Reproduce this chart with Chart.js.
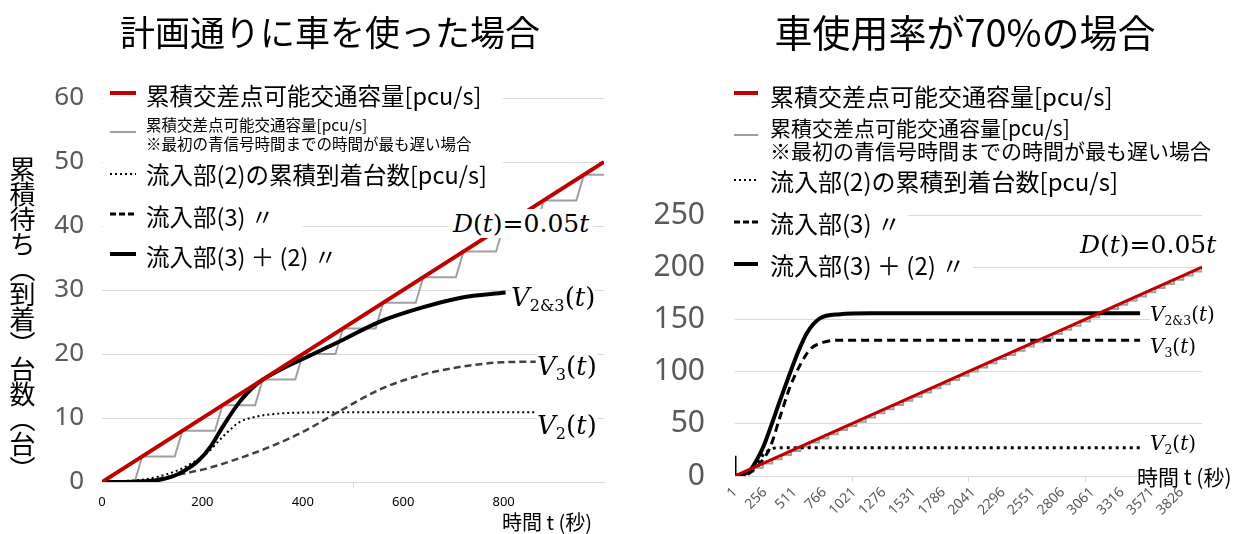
<!DOCTYPE html>
<html>
<head>
<meta charset="utf-8">
<script src="https://cdn.jsdelivr.net/npm/chart.js@4.4.1/dist/chart.umd.min.js"></script>
<style>
  body { margin: 0; background: #fff; width: 1237px; height: 534px; position: relative; overflow: hidden;
         font-family: "Noto Sans CJK JP", sans-serif; }
  canvas { position: absolute; top: 0; }
  .t { position: absolute; white-space: nowrap; color: #000; line-height: 1; }
  .title { transform: translateX(-50%); }
  .row { position: absolute; background: #fff; white-space: nowrap; }
  .row svg { position: absolute; top: 0; }
  .row span { position: absolute; line-height: 1; white-space: nowrap; }
  .math { font-family: "DejaVu Serif", serif; background: #fff; }
  .math sub { font-size: 0.62em; vertical-align: -0.3em; }
  .ytitle { writing-mode: vertical-rl; font-size: 26px; letter-spacing: -1px; }
</style>
</head>
<body>
<canvas id="cL" width="620" height="534" style="left:0"></canvas>
<canvas id="cR" width="617" height="534" style="left:620px"></canvas>

<div class="t title" style="left:330px;top:13px;font-size:35px">計画通りに車を使った場合</div>
<div class="t title" style="left:965px;top:12px;font-size:38px">車使用率が70%の場合</div>
<div class="t ytitle" style="left:9px;top:156px">累積待ち（到着）台数（台）</div>

<!-- legenda esquerda -->
<div class="row" style="left:103px;top:82px;width:400px;height:28px">
  <svg width="30" height="28" style="left:6px"><line x1="1" y1="11" x2="27" y2="11" stroke="#c00000" stroke-width="4"/></svg>
  <span style="left:43px;top:2px;font-size:23.5px">累積交差点可能交通容量[pcu/s]</span>
</div>
<div class="row" style="left:103px;top:112px;width:290px;height:40px">
  <svg width="30" height="40" style="left:6px"><line x1="1" y1="20" x2="27" y2="20" stroke="#a0a0a0" stroke-width="2"/></svg>
  <span style="left:43px;top:3px;font-size:15.5px;line-height:19px">累積交差点可能交通容量[pcu/s]<br>※最初の青信号時間までの時間が最も遅い場合</span>
</div>
<div class="row" style="left:103px;top:161px;width:400px;height:28px">
  <svg width="30" height="28" style="left:6px"><line x1="1" y1="13" x2="27" y2="13" stroke="#000" stroke-width="2" stroke-dasharray="2 3"/></svg>
  <span style="left:43px;top:2px;font-size:23.5px">流入部(2)の累積到着台数[pcu/s]</span>
</div>
<div class="row" style="left:103px;top:203px;width:200px;height:28px">
  <svg width="30" height="28" style="left:6px"><line x1="1" y1="11" x2="27" y2="11" stroke="#000" stroke-width="3" stroke-dasharray="6 3"/></svg>
  <span style="left:43px;top:2px;font-size:23.5px">流入部(3) 〃</span>
</div>
<div class="row" style="left:103px;top:243px;width:250px;height:28px">
  <svg width="30" height="28" style="left:6px"><line x1="1" y1="11" x2="27" y2="11" stroke="#000" stroke-width="4"/></svg>
  <span style="left:43px;top:2px;font-size:23.5px">流入部(3) ＋ (2) 〃</span>
</div>

<!-- legenda direita -->
<div class="row" style="left:733px;top:82px;width:400px;height:28px">
  <svg width="30" height="28" style="left:0"><line x1="1" y1="11" x2="25" y2="11" stroke="#c00000" stroke-width="4"/></svg>
  <span style="left:37px;top:2px;font-size:24px">累積交差点可能交通容量[pcu/s]</span>
</div>
<div class="row" style="left:733px;top:113px;width:490px;height:46px">
  <svg width="30" height="46" style="left:0"><line x1="1" y1="22" x2="25" y2="22" stroke="#a0a0a0" stroke-width="2"/></svg>
  <span style="left:37px;top:3px;font-size:21px;line-height:23px">累積交差点可能交通容量[pcu/s]<br>※最初の青信号時間までの時間が最も遅い場合</span>
</div>
<div class="row" style="left:733px;top:166px;width:400px;height:30px">
  <svg width="30" height="30" style="left:0"><line x1="1" y1="14" x2="25" y2="14" stroke="#000" stroke-width="2" stroke-dasharray="2 3"/></svg>
  <span style="left:37px;top:3px;font-size:24px">流入部(2)の累積到着台数[pcu/s]</span>
</div>
<div class="row" style="left:733px;top:208px;width:175px;height:30px">
  <svg width="30" height="30" style="left:0"><line x1="1" y1="14" x2="25" y2="14" stroke="#000" stroke-width="3" stroke-dasharray="6 3"/></svg>
  <span style="left:37px;top:3px;font-size:24px">流入部(3) 〃</span>
</div>
<div class="row" style="left:733px;top:250px;width:240px;height:30px">
  <svg width="30" height="30" style="left:0"><line x1="1" y1="14" x2="25" y2="14" stroke="#000" stroke-width="4"/></svg>
  <span style="left:37px;top:3px;font-size:24px">流入部(3) ＋ (2) 〃</span>
</div>

<!-- rótulos das curvas -->
<div class="t math" style="left:449px;top:209px;font-size:25px;padding:2px 4px"><i>D</i>(<i>t</i>)=0.05<i>t</i></div>
<div class="t math" style="left:511px;top:284px;font-size:26px"><i>V</i><sub>2&amp;3</sub>(<i>t</i>)</div>
<div class="t math" style="left:537px;top:353px;font-size:26px"><i>V</i><sub>3</sub>(<i>t</i>)</div>
<div class="t math" style="left:537px;top:412px;font-size:26px"><i>V</i><sub>2</sub>(<i>t</i>)</div>
<div class="t" style="left:502px;top:512px;font-size:20px">時間 t (秒)</div>

<div class="t math" style="left:1080px;top:232px;font-size:25px"><i>D</i>(<i>t</i>)=0.05<i>t</i></div>
<div class="t math" style="left:1150px;top:304px;font-size:20px"><i>V</i><sub>2&amp;3</sub>(<i>t</i>)</div>
<div class="t math" style="left:1150px;top:336px;font-size:20px"><i>V</i><sub>3</sub>(<i>t</i>)</div>
<div class="t math" style="left:1150px;top:433px;font-size:20px"><i>V</i><sub>2</sub>(<i>t</i>)</div>
<div class="t" style="left:1137px;top:466px;font-size:21px;background:#fff">時間 t (秒)</div>

<script>
// Dados do gráfico da esquerda (計画通りに車を使った場合)
const xTicksL = [0, 200, 400, 600, 800];
const xMarksL = [500];
const demandT = [0, 1000];
const demandN = [0, 50];
const capT = [0, 65, 80, 145, 160, 225, 240, 305, 320, 385, 400, 465, 480, 545, 560, 625, 640, 705, 720, 785, 800, 865, 880, 945, 960, 1000];
const capN = [0, 0, 4, 4, 8, 8, 12, 12, 16, 16, 20, 20, 24, 24, 28, 28, 32, 32, 36, 36, 40, 40, 44, 44, 48, 48];
const v2T = [0, 72, 110, 153, 180, 209, 241, 273, 313, 354, 402, 500, 600, 700, 864];
const v2N = [0, 0.3, 0.8, 1.9, 3.0, 4.5, 7.1, 9.3, 10.3, 10.7, 10.85, 10.9, 10.9, 10.9, 10.9];
const v3T = [0, 60, 112, 161, 209, 273, 338, 402, 474, 555, 635, 715, 796, 864];
const v3N = [0, 0.05, 0.5, 1.3, 2.1, 3.7, 5.6, 7.9, 11.1, 14.5, 16.7, 18.0, 18.7, 18.8];
const v23T = [0, 60, 112, 153, 193, 217, 241, 273, 305, 354, 402, 474, 555, 635, 715, 804];
const v23N = [0, 0.05, 0.3, 1.3, 3.4, 5.6, 8.7, 12.4, 15.1, 17.5, 19.3, 22.0, 25.1, 27.2, 28.8, 29.6];

// Dados do gráfico da direita (車使用率が70%の場合)
const xTicksR = [1, 256, 511, 766, 1021, 1276, 1531, 1786, 2041, 2296, 2551, 2806, 3061, 3316, 3571, 3826];
const xMarksR = [1000, 2000, 3000];
const rDemandT = [1, 4000];
const rDemandN = [0.05, 200];
const rCapT = [0, 80, 160, 240, 320, 400, 480, 560, 640, 720, 800, 880, 960, 1040, 1120, 1200, 1280, 1360, 1440, 1520, 1600, 1680, 1760, 1840, 1920, 2000, 2080, 2160, 2240, 2320, 2400, 2480, 2560, 2640, 2720, 2800, 2880, 2960, 3040, 3120, 3200, 3280, 3360, 3440, 3520, 3600, 3680, 3760, 3840, 3920, 4000];
const rCapN = [0, 4, 8, 12, 16, 20, 24, 28, 32, 36, 40, 44, 48, 52, 56, 60, 64, 68, 72, 76, 80, 84, 88, 92, 96, 100, 104, 108, 112, 116, 120, 124, 128, 132, 136, 140, 144, 148, 152, 156, 160, 164, 168, 172, 176, 180, 184, 188, 192, 196, 200];
const rV2T = [1, 50, 100, 150, 188, 240, 300, 360, 450, 3470];
const rV2N = [0, 0.2, 2, 6, 12, 20, 25, 27, 27, 27];
const rV3T = [1, 80, 128, 170, 214, 300, 385, 471, 557, 642, 754, 900, 3470];
const rV3N = [0, 0.3, 3, 7, 12, 27, 56, 85, 106, 121, 128, 130, 130];
const rV23T = [1, 25, 70, 128, 180, 240, 310, 385, 460, 531, 617, 728, 900, 1156, 3470];
const rV23N = [0, 0.5, 1.5, 5, 14, 27, 48, 72, 95, 116, 137, 151, 155, 156, 156];
const rSpikeT = [1, 1];
const rSpikeN = [19.5, 0];

// Junta os arrays x e y em pontos
function pts(xs, ys) {
    return xs.map((x, i) => ({ x: x, y: ys[i] }));
}

function serie(xs, ys, style) {
    return Object.assign({ data: pts(xs, ys), pointRadius: 0, fill: false, tension: 0 }, style);
}

// Pequenas marcas de escala no eixo x (posição vem da própria escala)
function tickMarks(values) {
    return {
        id: 'tickMarks',
        afterDraw(chart) {
            const x = chart.scales.x, ctx = chart.ctx;
            ctx.save();
            ctx.strokeStyle = '#d9d9d9';
            ctx.lineWidth = 1;
            values.forEach(v => {
                const px = Math.round(x.getPixelForValue(v)) + 0.5;
                ctx.beginPath();
                ctx.moveTo(px, x.top);
                ctx.lineTo(px, x.top + 6);
                ctx.stroke();
            });
            ctx.restore();
        }
    };
}

const baseOptions = (padRight, padTop) => ({
    responsive: false,
    animation: false,
    devicePixelRatio: 1,
    layout: { padding: { left: 0, right: padRight, top: padTop, bottom: 0 } },
    plugins: { legend: { display: false }, tooltip: { enabled: false } },
    elements: { point: { radius: 0 } }
});

// Gráfico da esquerda
const optL = baseOptions(16, 98);
optL.scales = {
    x: {
        type: 'linear', min: 0, max: 1000,
        afterBuildTicks: a => { a.ticks = xTicksL.map(v => ({ value: v })); },
        afterFit: s => { s.height = 52; },
        grid: { display: false, drawTicks: false },
        border: { color: '#d9d9d9' },
        ticks: { color: '#000', font: { size: 13, family: 'Noto Sans' }, padding: 12, maxRotation: 0,
                 callback: v => String(v) }
    },
    y: {
        min: 0, max: 60,
        afterFit: s => { s.width = 102; },
        ticks: { stepSize: 10, color: '#595959', font: { size: 26, family: 'Noto Sans' }, padding: 18 },
        grid: { color: '#d9d9d9', drawTicks: false },
        border: { display: false }
    }
};
new Chart(document.getElementById('cL'), {
    type: 'line',
    data: {
        datasets: [
            serie(demandT, demandN, { borderColor: '#c00000', borderWidth: 4, order: 0 }),
            serie(v23T, v23N, { borderColor: '#000', borderWidth: 4, cubicInterpolationMode: 'monotone', order: 1 }),
            serie(v3T, v3N, { borderColor: '#404040', borderWidth: 2.5, borderDash: [7, 4], cubicInterpolationMode: 'monotone', order: 2 }),
            serie(v2T, v2N, { borderColor: '#000', borderWidth: 2, borderDash: [2, 3], cubicInterpolationMode: 'monotone', order: 3 }),
            serie(capT, capN, { borderColor: '#a0a0a0', borderWidth: 2, order: 4 })
        ]
    },
    options: optL,
    plugins: [tickMarks(xMarksL)]
});

// Gráfico da direita
const optR = baseOptions(35, 215);
optR.scales = {
    x: {
        type: 'linear', min: 1, max: 4000,
        afterBuildTicks: a => { a.ticks = xTicksR.map(v => ({ value: v })); },
        afterFit: s => { s.height = 58; },
        grid: { display: false, drawTicks: false },
        border: { color: '#d9d9d9' },
        ticks: { color: '#595959', font: { size: 14, family: 'Noto Sans' }, padding: 8, minRotation: 45, maxRotation: 45,
                 autoSkip: false, callback: v => String(v) }
    },
    y: {
        min: 0, max: 250,
        afterFit: s => { s.width = 115; },
        ticks: { stepSize: 50, color: '#595959', font: { size: 30, family: 'Noto Sans' }, padding: 30 },
        grid: { color: '#d9d9d9', drawTicks: false },
        border: { display: false }
    }
};
new Chart(document.getElementById('cR'), {
    type: 'line',
    data: {
        datasets: [
            serie(rDemandT, rDemandN, { borderColor: '#c00000', borderWidth: 3, order: 0 }),
            serie(rV23T, rV23N, { borderColor: '#000', borderWidth: 4, cubicInterpolationMode: 'monotone', order: 1 }),
            serie(rSpikeT, rSpikeN, { borderColor: '#000', borderWidth: 3, order: 1 }),
            serie(rV3T, rV3N, { borderColor: '#000', borderWidth: 3, borderDash: [8, 5], cubicInterpolationMode: 'monotone', order: 2 }),
            serie(rV2T, rV2N, { borderColor: '#000', borderWidth: 3, borderDash: [3, 4], cubicInterpolationMode: 'monotone', order: 3 }),
            serie(rCapT, rCapN, { borderColor: '#a0a0a0', borderWidth: 2, stepped: true, order: 4 })
        ]
    },
    options: optR,
    plugins: [tickMarks(xMarksR)]
});
</script>
</body>
</html>
